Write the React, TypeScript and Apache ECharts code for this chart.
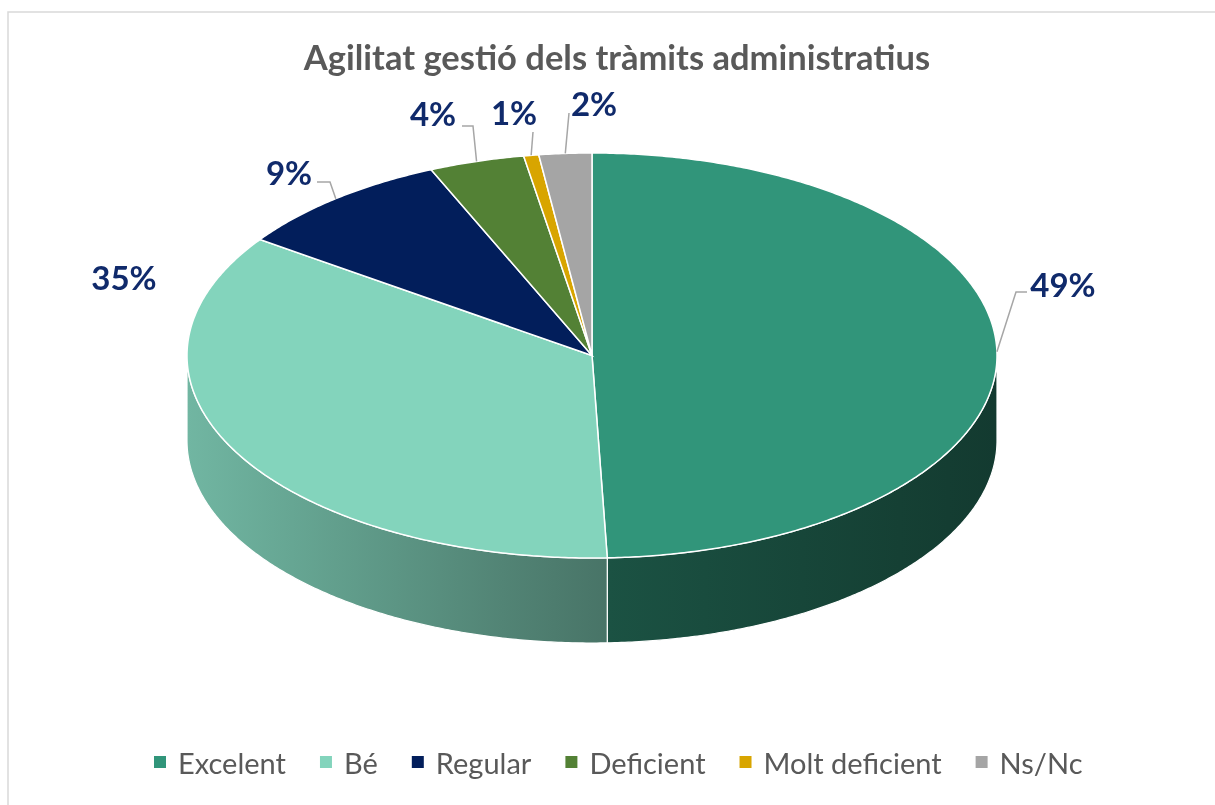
import React, { useEffect, useRef } from "react";
import * as echarts from "echarts";

// ---- data ----
const chartTitle = "Agilitat gestió dels tràmits administratius";
const categories = ["Excelent", "Bé", "Regular", "Deficient", "Molt deficient", "Ns/Nc"];
const values = [49.4, 35.3, 8.8, 3.8, 0.6, 2.1];
const colors = ["#31957a", "#83d4bc", "#021e5b", "#538135", "#d8a500", "#a5a5a5"];

// ---- layout (pixels) ----
const CX = 592;
const CY = 355.5;
const RX = 405;
const RY = 202.5;
const DEPTH = 85;
const labelPos = [[1063, 284], [124, 277], [289, 172], [433, 113], [514, 112], [594, 103]];
const leaderPts = [
  [[1016, 292], [1027, 292]],
  [],
  [[330, 182], [317, 182]],
  [[473, 126], [462, 126]],
  [[533, 132]],
  [[569, 113]],
];
const LABEL_COLOR = "#102a6b";
const TEXT_GRAY = "#595959";
const FONT = "Lato, 'Open Sans', sans-serif";

const total = values.reduce((s, v) => s + v, 0);

function pt(theta: number, dy = 0): number[] {
  const r = (theta * Math.PI) / 180;
  return [CX + RX * Math.sin(r), CY - RY * Math.cos(r) + dy];
}
function arc(a: number, b: number, dy = 0): number[][] {
  const n = Math.max(2, Math.ceil((b - a) / 0.5));
  const out: number[][] = [];
  for (let k = 0; k <= n; k++) out.push(pt(a + ((b - a) * k) / n, dy));
  return out;
}
function shade(hex: string, f: number): string {
  const n = parseInt(hex.slice(1), 16);
  const r = Math.round(((n >> 16) & 255) * f);
  const g = Math.round(((n >> 8) & 255) * f);
  const b = Math.round((n & 255) * f);
  return `rgb(${r},${g},${b})`;
}
function wallF(x: number): number {
  const stops = [[187, 0.86], [600, 0.55], [1000, 0.39]];
  if (x <= stops[0][0]) return stops[0][1];
  for (let i = 1; i < stops.length; i++) {
    if (x <= stops[i][0]) {
      const t = (x - stops[i - 1][0]) / (stops[i][0] - stops[i - 1][0]);
      return stops[i - 1][1] + t * (stops[i][1] - stops[i - 1][1]);
    }
  }
  return stops[stops.length - 1][1];
}

function renderSlice(params: any, api: any) {
  const i = params.seriesIndex;
  const v = api.value(0);
  let before = 0;
  for (let k = 0; k < i; k++) before += values[k];
  const a = (before / total) * 360;
  const b = ((before + v) / total) * 360;
  const children: any[] = [];

  // side wall (front half only)
  const lo = Math.max(a, 90);
  const hi = Math.min(b, 270);
  if (hi > lo) {
    const top = arc(lo, hi);
    const bottom = arc(lo, hi, DEPTH).reverse();
    const pts = top.concat(bottom);
    const xs = pts.map((p) => p[0]);
    const x0 = Math.min(...xs);
    const x1 = Math.max(...xs);
    const stops = [0, 0.25, 0.5, 0.75, 1].map((t) => ({
      offset: t,
      color: shade(colors[i], wallF(x0 + t * (x1 - x0))),
    }));
    children.push({
      type: "polygon",
      z2: 1,
      shape: { points: pts },
      style: {
        fill: new echarts.graphic.LinearGradient(0, 0, 1, 0, stops),
        stroke: "#ffffff",
        lineWidth: 1.2,
      },
    });
  }

  // top face
  children.push({
    type: "polygon",
    z2: 2,
    shape: { points: [[CX, CY]].concat(arc(a, b)) },
    style: { fill: colors[i], stroke: "#ffffff", lineWidth: 1.5 },
  });

  // leader line + label
  const mid = (a + b) / 2;
  const anchor = pt(mid);
  if (leaderPts[i].length) {
    children.push({
      type: "polyline",
      z2: 3,
      shape: { points: [anchor].concat(leaderPts[i]) },
      style: { stroke: "#a6a6a6", lineWidth: 1.5, fill: null },
    });
  }
  children.push({
    type: "text",
    z2: 4,
    x: labelPos[i][0],
    y: labelPos[i][1],
    style: {
      text: Math.round((v / total) * 100) + "%",
      fill: LABEL_COLOR,
      fontSize: 33,
      fontWeight: "bold",
      fontFamily: FONT,
      align: "center",
      verticalAlign: "middle",
    },
  });
  return { type: "group", children };
}

export default function App() {
  const ref = useRef<HTMLDivElement>(null);
  useEffect(() => {
    if (!ref.current) return;
    const chart = echarts.init(ref.current, undefined, { renderer: "svg" });
    chart.setOption({
      animation: false,
      color: colors,
      legend: {
        data: categories,
        left: 154,
        top: 747,
        padding: 0,
        icon: "rect",
        itemWidth: 12,
        itemHeight: 12,
        itemGap: 34,
        selectedMode: false,
        textStyle: {
          color: TEXT_GRAY,
          fontSize: 29,
          fontFamily: FONT,
          lineHeight: 30,
          padding: [0, 0, 0, 7],
        },
      },
      graphic: [
        {
          type: "rect",
          silent: true,
          shape: { x: 8, y: 12, width: 1240, height: 840 },
          style: { fill: "none", stroke: "#d9d9d9", lineWidth: 1.5 },
        },
        {
          type: "text",
          silent: true,
          x: 617,
          y: 56,
          style: {
            text: chartTitle,
            fill: TEXT_GRAY,
            fontSize: 34.5,
            fontWeight: "bold",
            fontFamily: FONT,
            align: "center",
            verticalAlign: "middle",
          },
        },
      ],
      series: categories.map((name, i) => ({
        type: "custom",
        name,
        coordinateSystem: "none",
        silent: true,
        itemStyle: { color: colors[i] },
        renderItem: renderSlice,
        data: [[values[i]]],
      })),
    });
    return () => chart.dispose();
  }, []);
  return (
    <div
      ref={ref}
      style={{ position: "fixed", left: 0, top: 0, width: 1215, height: 805 }}
    />
  );
}
